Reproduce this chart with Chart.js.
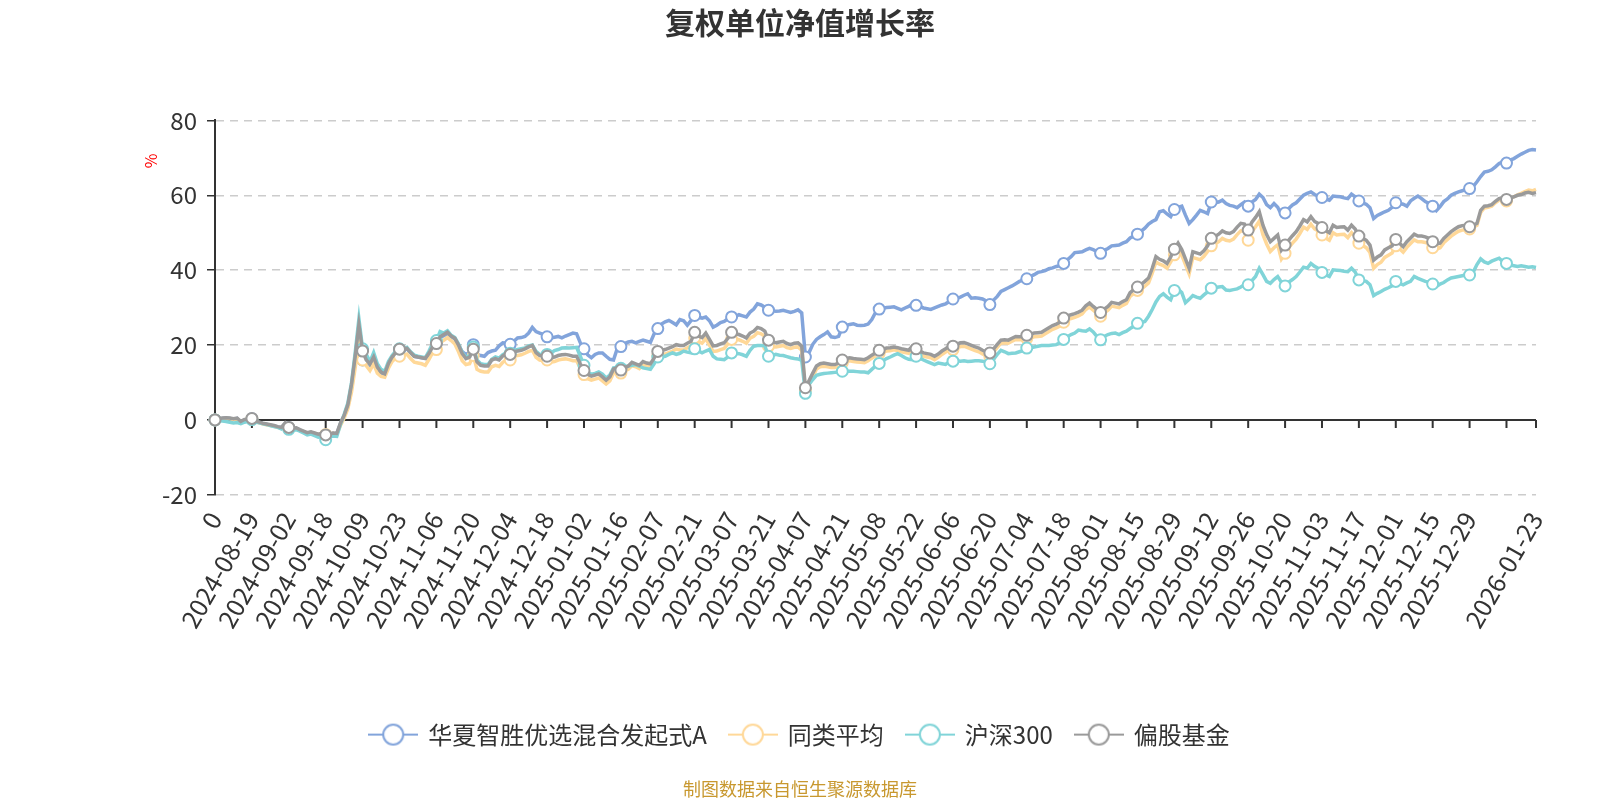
<!DOCTYPE html>
<html>
<head>
<meta charset="utf-8">
<title>复权单位净值增长率</title>
<script src="https://cdn.jsdelivr.net/npm/chart.js@4.4.1/dist/chart.umd.min.js"></script>
<style>
  html, body { margin: 0; padding: 0; background: #fff; }
  #wrap { width: 1600px; height: 800px; position: relative; }
</style>
</head>
<body>
<div id="wrap"><canvas id="myChart"></canvas></div>
<script>
// tick labels, one every 10 trading days (first one is literally "0")
const tickLabels = ['0', '2024-08-19', '2024-09-02', '2024-09-18', '2024-10-09', '2024-10-23', '2024-11-06',
  '2024-11-20', '2024-12-04', '2024-12-18', '2025-01-02', '2025-01-16', '2025-02-07', '2025-02-21',
  '2025-03-07', '2025-03-21', '2025-04-07', '2025-04-21', '2025-05-08', '2025-05-22', '2025-06-06',
  '2025-06-20', '2025-07-04', '2025-07-18', '2025-08-01', '2025-08-15', '2025-08-29', '2025-09-12',
  '2025-09-26', '2025-10-20', '2025-11-03', '2025-11-17', '2025-12-01', '2025-12-15', '2025-12-29']
const lastLabel = '2026-01-23'

const seriesNames = ['华夏智胜优选混合发起式A', '同类平均', '沪深300', '偏股基金']
const seriesColors = ['#82a4db', '#ffd898', '#80d4d8', '#9a9a9a']

// 华夏智胜优选混合发起式A (%)
const fundValues = [0,
  0.2, 0.4, 0.5, 0.4, 0.2, 0.4, -0.5, 0.0, 0.1, 0.3,
  -0.4, -0.7, -1.0, -1.2, -1.4, -1.6, -1.9, -2.1, -1.0, -2.1,
  -2.4, -2.2, -2.7, -3.2, -3.6, -3.3, -3.7, -4.0, -3.8, -4.1,
  -3.9, -3.6, -3.7, -1.0, 1.0, 3.6, 8.8, 15.5, 23.5, 16.0,
  15.0, 14.5, 16.0, 13.6, 12.5, 12.2, 15.0, 16.8, 18.0, 18.7,
  18.5, 19.0, 18.0, 17.0, 16.8, 16.6, 16.5, 17.8, 19.8, 20.6,
  22.0, 22.5, 23.0, 22.2, 21.6, 20.0, 18.2, 17.5, 18.0, 20.1,
  17.6, 17.2, 17.0, 18.0, 18.4, 18.6, 19.8, 20.6, 20.5, 20.2,
  21.0, 21.9, 22.0, 22.3, 23.2, 24.7, 23.6, 23.2, 22.8, 22.2,
  21.9, 22.1, 22.3, 21.9, 22.4, 22.8, 23.2, 23.0, 20.6, 19.0,
  17.4, 16.6, 17.5, 17.9, 17.9, 17.0, 16.2, 16.0, 19.0, 19.6,
  20.4, 20.8, 21.0, 20.6, 21.0, 21.3, 21.0, 20.7, 23.0, 24.4,
  25.6, 26.2, 26.6, 26.0, 25.4, 26.8, 26.5, 25.3, 26.5, 27.9,
  27.4, 27.2, 27.5, 26.5, 24.8, 25.3, 26.0, 26.3, 27.0, 27.5,
  27.6, 28.1, 27.8, 27.5, 28.8, 29.6, 31.0, 30.7, 30.1, 29.3,
  29.2, 29.0, 29.1, 29.3, 29.0, 28.7, 29.0, 29.4, 28.6, 16.8,
  18.0, 20.2, 21.5, 22.2, 22.8, 23.5, 22.2, 22.0, 22.3, 24.8,
  25.2, 25.5, 25.7, 25.3, 25.2, 25.3, 25.6, 26.8, 28.7, 29.6,
  29.8, 30.0, 30.1, 30.2, 29.8, 29.4, 29.9, 30.3, 31.0, 30.6,
  30.3, 29.9, 29.7, 29.5, 29.9, 30.3, 30.7, 31.0, 31.6, 32.3,
  32.5, 32.8, 33.3, 33.7, 32.5, 32.6, 32.5, 32.3, 31.8, 30.8,
  32.0, 33.0, 34.3, 34.8, 35.3, 35.8, 36.4, 37.0, 37.3, 37.7,
  38.3, 38.8, 39.4, 39.6, 39.9, 40.4, 40.6, 41.0, 41.2, 41.8,
  42.8, 43.6, 44.7, 44.8, 44.9, 45.4, 45.8, 45.5, 45.0, 44.5,
  45.3, 45.8, 46.5, 46.6, 46.7, 47.2, 47.6, 48.6, 49.1, 49.6,
  50.4, 51.2, 52.3, 53.0, 53.5, 55.6, 55.9, 55.0, 54.3, 56.2,
  56.8, 57.1, 54.7, 52.5, 53.5, 54.7, 56.0, 55.6, 55.1, 58.2,
  58.0, 58.2, 58.7, 57.8, 57.3, 57.1, 56.7, 57.5, 58.2, 57.1,
  58.2, 58.9, 60.3, 59.4, 57.5, 56.7, 57.8, 56.8, 54.8, 55.3,
  56.5, 57.4, 58.0, 59.0, 60.0, 60.5, 60.9, 60.2, 59.8, 59.4,
  59.0, 58.7, 59.8, 59.7, 59.6, 59.3, 59.1, 60.3, 59.6, 58.5,
  58.0, 57.6, 56.7, 53.8, 54.6, 55.1, 55.6, 56.0, 56.8, 58.0,
  57.8, 57.6, 57.1, 58.5, 59.2, 59.8, 59.1, 58.3, 57.8, 57.1,
  55.9, 57.0, 58.3, 59.0, 60.0, 60.5, 60.9, 61.2, 61.6, 61.8,
  62.4, 63.6, 65.0, 66.2, 66.4, 66.8, 67.6, 68.5, 68.9, 68.6,
  69.4, 69.8, 70.4, 71.0, 71.5, 72.0, 72.2, 72.1]

// 同类平均
const peerValues = [0,
  0.2, 0.3, 0.4, 0.3, 0.1, 0.3, -0.5, -0.1, 0.0, 0.2,
  -0.5, -0.8, -1.1, -1.3, -1.5, -1.7, -2.0, -2.2, -1.2, -2.2,
  -2.5, -2.3, -2.8, -3.2, -3.5, -3.3, -3.6, -3.9, -3.7, -3.9,
  -3.8, -3.6, -3.8, -1.5, 0.5, 3.0, 7.5, 14.0, 22.0, 16.0,
  14.5, 13.2, 15.0, 12.5, 11.6, 11.4, 13.8, 15.6, 16.6, 17.0,
  17.2, 17.6, 16.4, 15.4, 15.2, 15.0, 14.6, 16.2, 18.0, 18.8,
  20.7, 21.3, 22.0, 21.2, 20.3, 18.2, 15.8, 14.8, 15.0, 17.2,
  13.5, 13.0, 12.8, 12.8, 14.2, 14.6, 14.3, 15.4, 16.0, 16.0,
  17.0, 17.2, 17.4, 17.8, 18.3, 18.6, 16.7, 16.0, 15.8, 16.0,
  15.4, 15.6, 16.0, 16.2, 16.3, 16.1, 15.8, 15.8, 13.8, 12.1,
  11.0, 10.6, 10.9, 11.2, 10.4, 9.6, 10.4, 12.5, 12.8, 12.5,
  13.1, 13.5, 14.5, 14.2, 13.7, 14.7, 14.4, 14.2, 15.6, 17.2,
  17.4, 17.6, 18.0, 18.4, 18.9, 18.7, 18.7, 19.3, 19.8, 21.9,
  20.9, 20.5, 21.7, 20.0, 18.3, 18.4, 18.8, 19.1, 20.3, 21.5,
  21.6, 21.4, 21.0, 20.5, 21.8, 22.3, 23.3, 23.0, 22.3, 19.7,
  19.6, 19.5, 19.7, 19.9, 19.3, 19.1, 19.4, 19.5, 18.6, 8.0,
  9.5, 11.5, 13.6, 14.2, 14.3, 14.2, 14.0, 14.0, 14.4, 15.2,
  15.6, 15.8, 15.6, 15.5, 15.4, 15.3, 15.8, 16.5, 17.1, 17.8,
  18.1, 18.4, 18.5, 18.7, 18.5, 18.2, 18.0, 17.8, 18.9, 18.2,
  17.5, 17.0, 16.8, 16.6, 16.1, 16.7, 17.5, 18.1, 18.8, 18.8,
  19.2, 19.6, 19.7, 19.3, 18.9, 18.5, 18.2, 17.6, 17.2, 16.9,
  18.2, 19.4, 20.5, 20.6, 20.5, 21.0, 21.5, 21.4, 21.4, 21.8,
  21.9, 22.2, 22.3, 22.4, 23.0, 23.6, 24.2, 24.6, 25.1, 26.1,
  26.8, 27.1, 27.4, 27.8, 28.3, 29.5, 30.2, 29.3, 28.5, 27.7,
  28.6, 29.3, 30.4, 30.2, 30.0, 30.6, 31.1, 33.0, 33.8, 34.6,
  34.9, 35.7, 36.6, 39.2, 42.2, 41.6, 41.2, 40.5, 42.2, 44.1,
  45.7, 44.0, 41.5, 39.0, 43.4, 43.1, 42.8, 43.7, 45.0, 46.5,
  47.0, 47.6, 48.5, 48.0, 47.8, 48.3, 49.5, 50.5, 50.3, 48.0,
  50.3, 51.6, 53.1, 49.5, 47.0, 45.0, 46.0, 46.8, 43.0, 44.5,
  46.0, 47.2, 48.3, 49.8, 51.5, 50.9, 52.3, 51.0, 50.5, 49.4,
  48.6, 48.0, 50.0, 49.4, 49.5, 49.6, 48.7, 50.0, 49.0, 47.2,
  46.6, 46.0, 44.7, 40.5, 41.5, 42.1, 43.4, 44.0, 44.6, 46.5,
  45.7, 44.8, 46.1, 47.1, 48.1, 47.6, 47.6, 47.4, 47.0, 46.0,
  45.6, 46.0, 47.3, 48.2, 49.1, 49.8, 50.4, 50.7, 50.8, 51.0,
  51.5, 52.0, 55.4, 56.6, 56.8, 57.1, 58.0, 58.7, 59.0, 58.5,
  59.2, 59.6, 60.1, 60.5, 61.0, 61.4, 61.2, 61.6]

// 沪深300
const csi300Values = [0,
  -0.2, -0.3, -0.4, -0.6, -0.8, -0.7, -1.0, -0.6, -0.4, 0.1,
  -0.5, -0.8, -1.0, -1.2, -1.5, -1.8, -2.0, -2.4, -1.5, -2.5,
  -2.7, -2.6, -3.0, -3.5, -4.0, -3.8, -4.2, -4.6, -4.5, -5.3,
  -4.6, -4.3, -4.4, -1.2, 1.5, 4.5, 10.0, 18.0, 27.0, 19.0,
  17.5, 15.5, 18.0, 15.0, 13.5, 13.0, 15.6, 17.2, 18.4, 19.0,
  19.0, 19.4, 18.2, 17.3, 17.0, 16.8, 16.6, 18.4, 20.5, 21.2,
  23.6, 23.2, 23.8, 22.6, 22.0, 20.3, 18.0, 16.8, 17.2, 19.5,
  16.0, 15.0, 14.8, 14.8, 16.2, 16.8, 16.5, 17.4, 18.0, 17.8,
  18.6, 18.8, 19.0, 19.2, 19.8, 20.0, 18.3, 17.5, 17.2, 17.5,
  17.8, 18.5, 18.8, 19.2, 19.3, 19.2, 19.3, 19.4, 17.0, 14.6,
  12.8, 12.2, 12.4, 12.8, 12.2, 11.2, 12.0, 13.9, 14.0, 13.8,
  14.2, 14.4, 14.6, 14.8, 14.4, 13.9, 13.7, 13.5, 15.0, 16.8,
  16.8, 17.0, 17.5, 17.9, 17.5, 17.8, 18.4, 18.1, 17.9, 19.0,
  18.4, 17.9, 18.4, 18.8, 17.0, 16.3, 16.2, 16.1, 16.8, 17.9,
  17.8, 17.7, 17.4, 17.0, 18.6, 19.7, 19.9, 19.9, 19.8, 17.0,
  17.2, 17.5, 17.3, 17.2, 16.9, 16.6, 16.4, 16.3, 15.9, 7.1,
  9.5, 10.8, 11.9, 12.2, 12.4, 12.5, 12.6, 12.7, 12.8, 13.0,
  13.0, 13.0, 13.0, 12.9, 12.8, 12.8, 12.6, 13.5, 14.4, 15.1,
  15.8, 16.4, 16.8, 17.3, 17.7, 17.2, 16.6, 16.2, 16.1, 17.0,
  16.5, 16.0, 15.6, 15.2, 14.8, 15.2, 15.0, 14.8, 15.5, 15.7,
  15.8, 15.7, 15.8, 15.6, 15.7, 15.8, 15.8, 15.7, 15.5, 15.0,
  16.2, 17.5, 18.6, 18.2, 17.7, 17.8, 17.9, 18.2, 18.5, 19.2,
  19.3, 19.5, 19.7, 19.9, 19.9, 19.9, 20.0, 20.1, 20.6, 21.5,
  22.2, 22.8, 23.2, 24.0, 23.8, 23.7, 24.3, 23.5, 22.3, 21.4,
  22.3, 22.8, 23.1, 23.2, 22.8, 23.3, 23.7, 24.4, 25.0, 25.8,
  26.0, 26.3, 27.7, 29.5, 31.5, 33.0, 33.7, 32.8, 32.1, 34.6,
  34.9, 34.0, 31.3, 32.2, 33.2, 32.8, 32.5, 33.4, 34.2, 35.2,
  35.3, 35.5, 35.6, 34.7, 34.6, 34.8, 35.0, 35.5, 36.1, 36.1,
  37.2, 38.3, 40.5, 38.8, 37.0, 36.5, 37.5, 38.3, 36.8, 35.8,
  36.8, 37.5, 38.3, 39.5, 40.8, 40.5, 41.8, 41.0, 40.5, 39.4,
  38.8, 38.3, 40.1, 40.0, 39.9, 39.7, 39.6, 40.5, 39.5, 37.4,
  37.2, 37.0, 36.1, 33.2, 33.8, 34.3, 34.9, 35.3, 35.8, 37.0,
  36.5, 36.1, 36.6, 37.0, 38.3, 37.8, 37.4, 37.0, 36.8, 36.3,
  35.6, 36.3, 36.7, 37.4, 37.9, 38.1, 38.3, 38.5, 38.7, 38.7,
  39.5, 41.5, 43.0, 42.2, 41.8, 42.4, 42.8, 43.2, 42.3, 41.8,
  41.4, 41.2, 41.0, 41.2, 41.0, 40.8, 40.9, 40.7]

// 偏股基金
const equityFundValues = [0,
  0.3, 0.5, 0.6, 0.5, 0.3, 0.5, -0.4, 0.1, 0.2, 0.4,
  -0.3, -0.6, -0.9, -1.1, -1.3, -1.5, -1.8, -2.0, -0.8, -2.0,
  -2.3, -2.1, -2.6, -3.0, -3.4, -3.2, -3.5, -3.8, -3.6, -4.0,
  -3.8, -3.5, -3.6, -0.8, 1.2, 4.0, 9.5, 17.0, 25.4, 18.4,
  16.0, 15.0, 16.8, 14.1, 12.8, 12.3, 15.0, 16.8, 18.0, 18.9,
  18.7, 19.1, 18.0, 17.0, 16.8, 16.6, 16.4, 17.8, 19.6, 20.4,
  22.2, 22.8, 23.4, 22.4, 21.8, 20.0, 17.7, 16.4, 16.8, 18.9,
  15.5, 14.6, 14.4, 14.4, 16.0, 16.4, 16.0, 17.1, 17.7, 17.5,
  18.2, 18.4, 18.6, 19.0, 19.5, 19.9, 18.0, 17.2, 17.0, 17.0,
  16.6, 16.8, 17.2, 17.4, 17.5, 17.3, 17.0, 17.0, 15.0, 13.2,
  12.2, 11.7, 12.0, 12.3, 11.5, 10.6, 11.5, 13.6, 13.9, 13.3,
  14.0, 14.4, 15.4, 15.0, 14.6, 15.6, 15.2, 15.0, 16.5, 18.3,
  18.6, 18.8, 19.2, 19.6, 20.1, 19.9, 19.9, 20.5, 21.0, 23.4,
  22.4, 22.0, 23.2, 21.5, 19.8, 19.9, 20.3, 20.6, 21.8, 23.4,
  23.0, 22.8, 22.4, 21.9, 23.2, 23.7, 24.7, 24.4, 23.7, 21.3,
  20.8, 20.6, 20.8, 21.0, 20.4, 20.1, 20.5, 20.6, 19.7, 8.6,
  10.5, 12.5, 14.4, 15.0, 15.2, 15.0, 14.8, 14.8, 15.2, 16.0,
  16.4, 16.6, 16.4, 16.3, 16.2, 16.1, 16.6, 17.3, 17.9, 18.6,
  18.9, 19.2, 19.3, 19.5, 19.3, 19.0, 18.8, 18.6, 19.7, 19.0,
  18.4, 17.9, 17.7, 17.5, 17.0, 17.6, 18.4, 19.0, 19.7, 19.7,
  20.2, 20.6, 20.7, 20.3, 19.9, 19.5, 19.2, 18.6, 18.2, 17.9,
  19.0, 20.2, 21.3, 21.4, 21.3, 21.8, 22.3, 22.2, 22.2, 22.6,
  22.9, 23.2, 23.3, 23.4, 24.0, 24.6, 25.2, 25.6, 26.1, 27.2,
  27.8, 28.1, 28.4, 28.8, 29.3, 30.5, 31.2, 30.3, 29.5, 28.7,
  29.6, 30.3, 31.4, 31.2, 31.0, 31.6, 32.1, 34.0, 34.8, 35.5,
  36.2, 37.0, 37.9, 40.5, 43.6, 42.9, 42.5, 41.8, 43.5, 45.6,
  47.2, 45.5, 43.0, 40.5, 44.9, 44.6, 44.3, 45.2, 46.5, 48.5,
  49.0, 49.6, 50.5, 50.0, 49.8, 50.3, 51.5, 52.5, 52.3, 50.7,
  52.8, 54.1, 55.6, 52.0, 49.5, 47.6, 48.5, 49.4, 45.4, 46.7,
  48.0, 49.2, 50.3, 51.8, 53.5, 52.9, 54.3, 53.0, 52.5, 51.4,
  50.6, 50.0, 52.0, 51.4, 51.5, 51.6, 50.7, 52.0, 51.0, 49.1,
  48.6, 48.0, 46.7, 42.7, 43.5, 44.1, 45.4, 46.0, 46.5, 48.2,
  47.2, 46.3, 47.6, 48.6, 49.6, 49.1, 49.1, 48.9, 48.5, 47.6,
  47.0, 47.2, 48.5, 49.4, 50.3, 51.0, 51.6, 51.9, 52.0, 51.6,
  52.0, 52.5, 56.0, 57.1, 57.2, 57.5, 58.4, 59.1, 59.4, 58.9,
  59.3, 59.6, 60.0, 60.2, 60.6, 60.8, 60.5, 60.7]

const yTicks = [-20, 0, 20, 40, 60, 80]

// every 10th point gets a label, the last point gets the closing date
let categories = fundValues.map((v, i) => {
  if (i === fundValues.length - 1) return lastLabel
  if (i % 10 === 0 && tickLabels[i / 10]) return tickLabels[i / 10]
  return ''
})

Chart.defaults.font.family = "'Noto Sans CJK SC', 'Noto Sans', sans-serif"
Chart.defaults.color = '#333'

// legend icon: short line with a hollow circle in the middle
function legendIcon(color) {
  let c = document.createElement('canvas')
  c.width = 50
  c.height = 26
  let g = c.getContext('2d')
  g.strokeStyle = color
  g.lineWidth = 2
  g.beginPath()
  g.moveTo(0, 13)
  g.lineTo(50, 13)
  g.stroke()
  g.beginPath()
  g.arc(25, 13, 10, 0, Math.PI * 2)
  g.fillStyle = '#fff'
  g.fill()
  g.stroke()
  return c
}
const icons = seriesColors.map(legendIcon)

// x axis sits on the zero line, with its ticks; plus the red "%" name
const zeroAxis = {
  id: 'zeroAxis',
  beforeDatasetsDraw(chart) {
    const {ctx, chartArea, scales} = chart
    const y0 = scales.y.getPixelForValue(0)
    ctx.save()
    ctx.strokeStyle = '#333'
    ctx.lineWidth = 2
    ctx.beginPath()
    ctx.moveTo(chartArea.left, y0)
    ctx.lineTo(chartArea.right, y0)
    categories.forEach((lab, i) => {
      if (i % 10 === 0 || i === categories.length - 1) {
        const x = scales.x.getPixelForValue(i)
        ctx.moveTo(x, y0)
        ctx.lineTo(x, y0 + 8)
      }
    })
    ctx.stroke()
    ctx.restore()
  },
  afterDraw(chart) {
    const {ctx} = chart
    ctx.save()
    ctx.translate(151, 161)
    ctx.rotate(-Math.PI / 2)
    ctx.fillStyle = '#ff0000'
    ctx.font = "16px 'Noto Sans CJK SC', sans-serif"
    ctx.textAlign = 'center'
    ctx.textBaseline = 'middle'
    ctx.fillText('%', 0, 0)
    ctx.restore()
  }
}

const allValues = [fundValues, peerValues, csi300Values, equityFundValues]

const ctx = document.getElementById('myChart')

new Chart(ctx, {
  type: 'line',
  data: {
    labels: categories,
    datasets: allValues.map((vals, k) => ({
      label: seriesNames[k],
      data: vals,
      borderColor: seriesColors[k],
      backgroundColor: seriesColors[k],
      borderWidth: 3.5,
      tension: 0,
      fill: false,
      order: 4 - k,
      pointRadius: c => (c.dataIndex % 10 === 0 ? 5.5 : 0),
      pointBackgroundColor: '#fff',
      pointBorderColor: seriesColors[k],
      pointBorderWidth: 2,
      pointHoverRadius: 5.5
    }))
  },
  options: {
    responsive: true,
    maintainAspectRatio: false,
    animation: false,
    layout: { padding: { left: 64, right: 64, top: 0, bottom: 0 } },
    plugins: {
      title: {
        display: true,
        text: '复权单位净值增长率',
        color: '#333',
        font: { size: 30, weight: 'bold' },
        padding: { top: 4.5, bottom: 79.9 }
      },
      subtitle: {
        display: true,
        position: 'bottom',
        text: '制图数据来自恒生聚源数据库',
        color: '#c8982f',
        font: { size: 18 },
        padding: { top: 21.3, bottom: 0.5 }
      },
      legend: {
        position: 'bottom',
        labels: {
          usePointStyle: true,
          pointStyleWidth: 46,
          padding: 23,
          color: '#333',
          font: { size: 24 },
          generateLabels: chart => chart.data.datasets.map((ds, i) => ({
            text: ds.label,
            pointStyle: icons[i],
            fillStyle: 'transparent',
            strokeStyle: 'transparent',
            lineWidth: 0,
            fontColor: '#333',
            hidden: false,
            datasetIndex: i
          }))
        }
      },
      tooltip: { enabled: false }
    },
    scales: {
      x: {
        type: 'category',
        grid: { display: false },
        border: { display: false },
        ticks: {
          autoSkip: false,
          maxRotation: 60,
          minRotation: 60,
          padding: 4,
          color: '#333',
          font: { size: 25 },
          callback: (v, i) => (categories[i] === '' ? null : categories[i])
        },
        afterFit: scale => { scale.height = 204.8 }
      },
      y: {
        min: -20,
        max: 80,
        afterBuildTicks: scale => { scale.ticks = yTicks.map(v => ({ value: v })) },
        grid: {
          color: '#cccccc',
          lineWidth: 1.5,
          tickColor: '#333',
          tickLength: 8,
          drawTicks: true
        },
        border: { display: true, color: '#333', width: 2, dash: [8, 6] },
        ticks: { color: '#333', font: { size: 24 }, padding: 10 },
        afterFit: scale => { scale.width = 151 }
      }
    }
  },
  plugins: [zeroAxis]
})
</script>
</body>
</html>
